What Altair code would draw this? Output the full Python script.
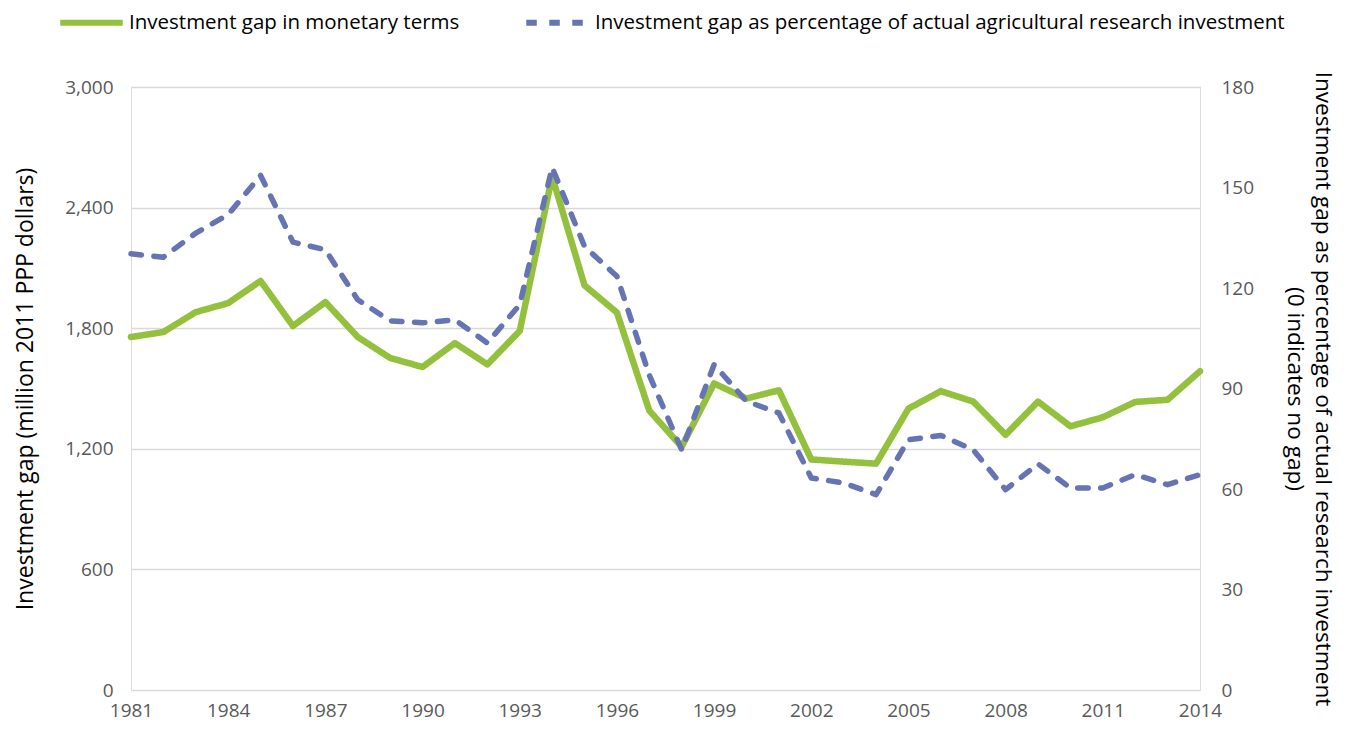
import altair as alt
import pandas as pd

# ---- data ----
years = list(range(1981, 2015))
gap_monetary = [1756, 1781, 1880, 1925, 2035, 1811, 1930, 1756, 1652, 1607,
                1726, 1620, 1786, 2555, 2013, 1878, 1390, 1210, 1525, 1450,
                1491, 1147, 1136, 1126, 1400, 1487, 1435, 1270, 1435, 1312,
                1357, 1433, 1444, 1586]
gap_percent = [130.2, 129.2, 136.4, 141.9, 153.6, 133.7, 131.4, 116.5, 110.2, 109.6,
               110.5, 103.6, 115.0, 156.0, 132.4, 123.5, 94.0, 71.7, 97.1, 86.2,
               82.7, 63.3, 61.8, 58.3, 74.7, 76.0, 71.7, 59.8, 67.5, 60.3,
               60.3, 64.3, 61.3, 64.3]
series_names = ["Investment gap in monetary terms",
                "Investment gap as percentage of actual agricultural research investment"]
x_ticks = list(range(1981, 2015, 3))
left_ticks = [0, 600, 1200, 1800, 2400, 3000]
right_ticks = [0, 30, 60, 90, 120, 150, 180]

FONT = "Open Sans"
GREEN = "#93C13D"
BLUE = "#6674B4"

df1 = pd.DataFrame({"year": years, "value": gap_monetary, "series": series_names[0]})
df2 = pd.DataFrame({"year": years, "value": gap_percent, "series": series_names[1]})

x_enc = alt.X("year:Q",
              scale=alt.Scale(domain=[years[0], years[-1]], nice=False, zero=False),
              axis=alt.Axis(values=x_ticks, format="d", title=None, grid=False,
                            domain=False, ticks=False, labelPadding=11,
                            labelFontSize=19, labelColor="#595959", labelFont=FONT,
                            labelFlush=False))

color_enc = alt.Color("series:N",
                      scale=alt.Scale(domain=series_names, range=[GREEN, BLUE]),
                      legend=alt.Legend(orient="none", legendX=-74, legendY=-99,
                                        direction="horizontal", title=None,
                                        symbolType="stroke", symbolSize=3900,
                                        symbolStrokeWidth=6, labelFontSize=20.5,
                                        labelFont=FONT, labelColor="black",
                                        labelOffset=3, columnPadding=54,
                                        labelLimit=1000, padding=0))
dash_enc = alt.StrokeDash("series:N",
                          scale=alt.Scale(domain=series_names,
                                          range=[[1, 0], [10.5, 12.5]]),
                          legend=None)

line1 = alt.Chart(df1).mark_line(strokeWidth=6.5, strokeCap="round",
                                 strokeJoin="round").encode(
    x=x_enc,
    y=alt.Y("value:Q",
            scale=alt.Scale(domain=[0, 3000], nice=False),
            axis=alt.Axis(orient="left", values=left_ticks, format=",.0f",
                          title="Investment gap (million 2011 PPP dollars)",
                          titleX=-106, titleY=301.5, titleAngle=-90,
                          titleBaseline="middle", titleAlign="center",
                          titleFontSize=23, titleFont=FONT, titleFontWeight="normal",
                          titleColor="black",
                          labelFontSize=19, labelFont=FONT, labelColor="#595959",
                          labelPadding=18, domain=False, ticks=False,
                          grid=True, gridColor="#d9d9d9", gridWidth=1.5)),
    color=color_enc,
    strokeDash=dash_enc,
)

line2 = alt.Chart(df2).mark_line(strokeWidth=5.5, strokeCap="round",
                                 strokeJoin="round").encode(
    x=x_enc,
    y=alt.Y("value:Q",
            scale=alt.Scale(domain=[0, 180], nice=False),
            axis=alt.Axis(orient="right", values=right_ticks, format="d",
                          title=["Investment gap as percentage of actual research investment",
                                 "(0 indicates no gap)"],
                          titleX=122, titleY=301.5, titleAngle=90,
                          titleBaseline="middle", titleAlign="center",
                          titleLineHeight=28,
                          titleFontSize=22.6, titleFont=FONT, titleFontWeight="normal",
                          titleColor="black",
                          labelFontSize=19, labelFont=FONT, labelColor="#595959",
                          labelPadding=21, domain=False, ticks=False, grid=False)),
    color=color_enc,
    strokeDash=dash_enc,
)

chart = alt.layer(line1, line2).resolve_scale(y="independent").properties(
    width=1069, height=603,
    autosize=alt.AutoSizeParams(type="none"),
    padding={"left": 123, "top": 79, "right": 140, "bottom": 31},
).configure_view(stroke=None).configure(background="white")

chart.save("out.html", embed_options={"renderer": "svg", "actions": False})
